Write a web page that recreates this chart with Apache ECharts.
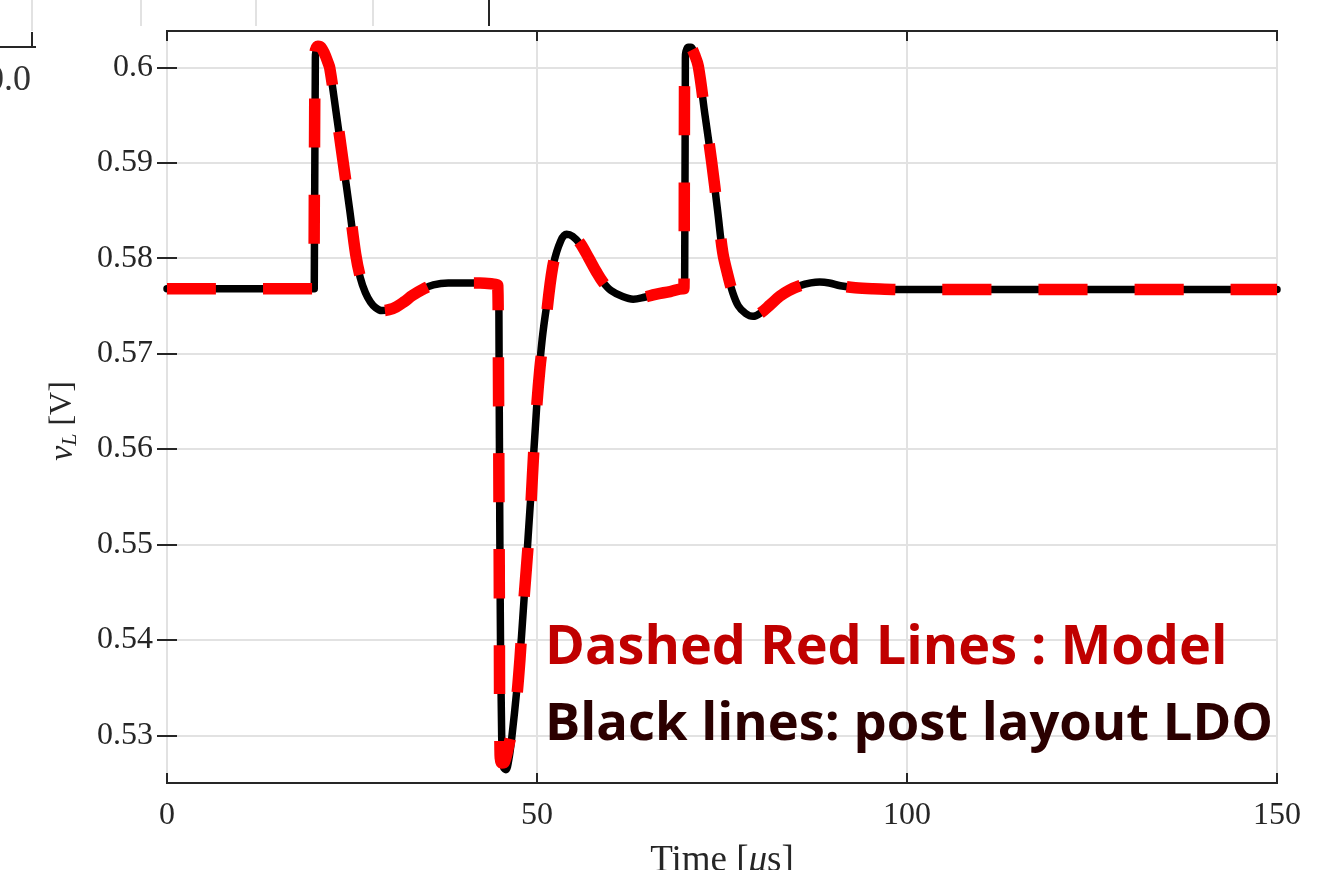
<!DOCTYPE html>
<html>
<head>
<meta charset="utf-8">
<title>LDO transient</title>
<script src="https://cdn.jsdelivr.net/npm/echarts@6/dist/echarts.min.js"></script>
<style>
  html, body { margin: 0; padding: 0; background: #fff; }
  #chart { width: 1332px; height: 870px; }
</style>
</head>
<body>
<div id="chart"></div>
<script>
  // post layout LDO (black, solid)  [time us, vL V]
  var postLayout = [
    [0, 0.5768], [19.9, 0.5768], [19.97, 0.5768], [20.05, 0.6010], [20.12, 0.6016], [20.4, 0.6021],
    [20.8, 0.6020], [21.3, 0.6013], [21.7, 0.6005], [22.0, 0.5998], [22.9, 0.5950], [23.8, 0.5900],
    [24.7, 0.5850], [25.5, 0.5803], [26.1, 0.5780], [26.8, 0.5764], [27.5, 0.5754], [28.2, 0.5748],
    [29.0, 0.5745], [30.0, 0.5746], [31.0, 0.5749], [32.0, 0.5754], [33.2, 0.5761], [34.5, 0.5767],
    [36.0, 0.5772], [38.0, 0.5774], [40.0, 0.5774], [42.3, 0.5774], [44.0, 0.5772], [44.75, 0.5770],
    [44.8, 0.5769], [44.85, 0.5750], [45.0, 0.5473], [45.23, 0.5298], [45.5, 0.5266], [45.8, 0.5264],
    [46.2, 0.5275], [46.6, 0.5298], [47.3, 0.5350], [47.9, 0.5403], [48.8, 0.5508], [49.7, 0.5613],
    [50.2, 0.5672], [50.7, 0.5715], [51.3, 0.5750], [52.2, 0.5793], [53.2, 0.5818], [54.0, 0.5825],
    [54.8, 0.5823], [55.8, 0.5815], [57.0, 0.5800], [58.0, 0.5786], [58.9, 0.5775], [60.0, 0.5766],
    [61.5, 0.5760], [63.0, 0.5757], [64.5, 0.5759], [66.0, 0.5762], [68.0, 0.5765], [69.85, 0.5768],
    [69.95, 0.5768], [70.05, 0.6010], [70.12, 0.6016], [70.4, 0.6021], [70.8, 0.6021], [71.3, 0.6012],
    [71.8, 0.6000], [72.7, 0.5950], [73.6, 0.5900], [74.4, 0.5850], [75.1, 0.5805], [75.7, 0.5785],
    [76.4, 0.5765], [77.2, 0.5750], [78.2, 0.5742], [79.2, 0.5739], [80.3, 0.5743], [81.5, 0.5751],
    [82.8, 0.5760], [84.0, 0.5766], [85.5, 0.5771], [87.0, 0.5774], [88.2, 0.5775], [89.5, 0.5774],
    [91.0, 0.5771], [93.0, 0.5769], [95.4, 0.5768], [100, 0.5767], [150, 0.5767]
  ];

  // model (red, dashed)
  var model = [
    [0, 0.5768], [19.85, 0.5768], [19.92, 0.5768], [20.0, 0.6012], [20.07, 0.6018], [20.4, 0.6022],
    [20.8, 0.6021], [21.3, 0.6014], [21.7, 0.6006], [22.0, 0.5999], [22.9, 0.5951], [23.8, 0.5901],
    [24.7, 0.5851], [25.5, 0.5804], [26.1, 0.5781], [26.8, 0.5764], [27.5, 0.5754], [28.2, 0.5748],
    [29.0, 0.5745], [30.0, 0.5746], [31.0, 0.5749], [32.0, 0.5754], [33.2, 0.5761], [34.5, 0.5767],
    [36.0, 0.5772], [38.0, 0.5774], [40.0, 0.5774], [42.3, 0.5774], [44.0, 0.5773], [44.65, 0.5772],
    [44.7, 0.5771], [44.75, 0.5750], [44.9, 0.5470], [45.0, 0.5285], [45.2, 0.5271], [45.6, 0.5272],
    [46.2, 0.5290], [46.7, 0.5308], [47.2, 0.5335], [47.7, 0.5380], [48.1, 0.5428], [49.05, 0.5526],
    [49.7, 0.5615], [50.4, 0.5685], [51.1, 0.5728], [52.1, 0.5790], [53.1, 0.5817], [54.0, 0.5826],
    [54.8, 0.5824], [55.8, 0.5816], [57.0, 0.5800], [58.0, 0.5786], [58.9, 0.5775], [60.0, 0.5766],
    [61.5, 0.5760], [63.0, 0.5757], [64.5, 0.5759], [66.0, 0.5762], [68.0, 0.5765], [69.75, 0.5768],
    [69.85, 0.5768], [69.95, 0.6012], [70.02, 0.6018], [70.4, 0.6022], [70.8, 0.6021], [71.3, 0.6013],
    [71.8, 0.6001], [72.7, 0.5951], [73.6, 0.5901], [74.4, 0.5851], [75.1, 0.5806], [75.7, 0.5785],
    [76.4, 0.5765], [77.2, 0.5750], [78.2, 0.5742], [79.2, 0.5739], [80.3, 0.5743], [81.5, 0.5751],
    [82.8, 0.5760], [84.0, 0.5766], [85.5, 0.5771], [87.0, 0.5774], [88.2, 0.5775], [89.5, 0.5774],
    [91.0, 0.5771], [93.0, 0.5769], [95.4, 0.5768], [100, 0.5767], [150, 0.5767]
  ];

  var xTicks = [0, 50, 100, 150];
  var yTicks = [0.53, 0.54, 0.55, 0.56, 0.57, 0.58, 0.59, 0.6];

  var axisColor = '#262626';
  var serif = '"Liberation Serif", "DejaVu Serif", serif';

  var chart = echarts.init(document.getElementById('chart'));

  chart.setOption({
    backgroundColor: '#fff',
    animation: false,
    grid: {
      left: 167, right: 55, top: 31, bottom: 87,
      outerBoundsMode: 'none',
      show: true, borderColor: axisColor, borderWidth: 2, backgroundColor: '#fff'
    },
    xAxis: [{
      type: 'value', min: 0, max: 150, interval: 50,
      name: 'Time [{i|\u03bc}s]',
      nameLocation: 'middle', nameGap: 60,
      nameTextStyle: {
        fontFamily: serif, fontSize: 37, color: axisColor,
        rich: { i: { fontFamily: serif, fontStyle: 'italic', fontSize: 37, color: axisColor } }
      },
      axisLine: { show: false },
      axisTick: { show: true, inside: true, length: 10, customValues: xTicks, lineStyle: { color: axisColor, width: 2 } },
      axisLabel: { fontFamily: serif, fontSize: 32, color: axisColor, margin: 17, customValues: xTicks },
      splitLine: { show: true, lineStyle: { color: '#e2e2e2', width: 2 } }
    }, {
      type: 'value', min: 0, max: 150, interval: 50, position: 'top',
      axisLine: { show: false },
      axisTick: { show: true, inside: true, length: 10, lineStyle: { color: axisColor, width: 2 } },
      axisLabel: { show: false },
      splitLine: { show: false }
    }],
    yAxis: [{
      type: 'value', min: 0.525, max: 0.6038,
      name: '{v|v}{s|L} [V]',
      nameLocation: 'middle', nameGap: 86, nameRotate: 90,
      nameTextStyle: {
        fontFamily: serif, fontSize: 32, color: axisColor, padding: [0, 28, 0, 0],
        rich: {
          v: { fontFamily: serif, fontStyle: 'italic', fontSize: 34, color: axisColor },
          s: { fontFamily: serif, fontStyle: 'italic', fontSize: 22, color: axisColor, padding: [14, 0, 0, 0] }
        }
      },
      axisLine: { show: false },
      axisTick: { show: true, inside: true, length: 10, customValues: yTicks, lineStyle: { color: axisColor, width: 2 } },
      axisLabel: {
        fontFamily: serif, fontSize: 32, color: axisColor, margin: 14, customValues: yTicks,
        formatter: function (v) { return String(+v.toFixed(2)); }
      },
      splitLine: { show: true, lineStyle: { color: '#e2e2e2', width: 2 } }
    }, {
      type: 'value', min: 0.525, max: 0.6038, position: 'right',
      axisLine: { show: false },
      axisTick: { show: true, inside: true, length: 10, customValues: yTicks, lineStyle: { color: axisColor, width: 2 } },
      axisLabel: { show: false },
      splitLine: { show: false }
    }],
    series: [{
      name: 'post layout LDO',
      type: 'line',
      data: postLayout,
      showSymbol: false,
      smooth: 0.35,
      lineStyle: { color: '#000', width: 7.5, join: 'round', cap: 'round' },
      z: 3
    }, {
      name: 'Model',
      type: 'line',
      data: model,
      showSymbol: false,
      smooth: 0.35,
      lineStyle: { color: '#ff0000', width: 11.5, type: [49, 47], cap: 'butt', join: 'round' },
      z: 4
    }],
    graphic: [
      // pieces of the neighbouring figure cut by the crop
      { type: 'line', shape: { x1: 141, y1: 0, x2: 141, y2: 26 }, style: { stroke: '#e2e2e2', lineWidth: 2 } },
      { type: 'line', shape: { x1: 256, y1: 0, x2: 256, y2: 26 }, style: { stroke: '#e2e2e2', lineWidth: 2 } },
      { type: 'line', shape: { x1: 373, y1: 0, x2: 373, y2: 26 }, style: { stroke: '#e2e2e2', lineWidth: 2 } },
      { type: 'line', shape: { x1: 32, y1: 0, x2: 32, y2: 31 }, style: { stroke: '#e2e2e2', lineWidth: 2 } },
      { type: 'line', shape: { x1: 489, y1: 0, x2: 489, y2: 26 }, style: { stroke: axisColor, lineWidth: 2 } },
      { type: 'line', shape: { x1: 0, y1: 47, x2: 36, y2: 47 }, style: { stroke: axisColor, lineWidth: 2 } },
      { type: 'line', shape: { x1: 32, y1: 32, x2: 32, y2: 47 }, style: { stroke: axisColor, lineWidth: 2 } },
      { type: 'text', x: -14, y: 81, style: { text: '0.0', font: '36px ' + serif, fill: '#333', verticalAlign: 'middle' } },
      // annotation
      { type: 'text', x: 545, y: 649, z: 10,
        style: { text: 'Dashed Red Lines : Model', font: 'bold 54px "Open Sans", sans-serif', fill: '#c00000', verticalAlign: 'middle' } },
      { type: 'text', x: 545, y: 725, z: 10,
        style: { text: 'Black lines: post layout LDO', font: 'bold 52.5px "Open Sans", sans-serif', fill: '#2b0000', verticalAlign: 'middle' } }
    ]
  });
</script>
</body>
</html>
